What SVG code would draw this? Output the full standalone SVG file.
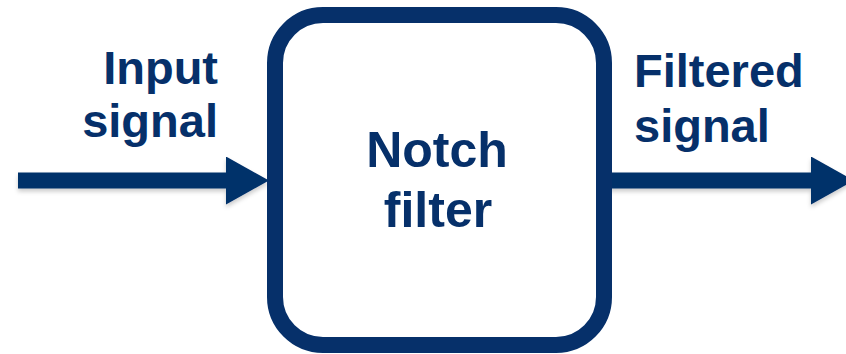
<svg xmlns="http://www.w3.org/2000/svg" width="846" height="354" viewBox="0 0 846 354">
  <style>
    .lbl { font-family: "Liberation Sans", Arial, sans-serif; font-weight: bold; font-size: 47px; fill: #06306a; }
    .big { font-size: 50px; }
    .wire { fill: none; stroke: #06306a; stroke-width: 16; }
  </style>
  <defs>
    <marker id="head" markerUnits="userSpaceOnUse" markerWidth="43" markerHeight="48" refX="1" refY="24" orient="auto">
      <path d="M0,0 L43,24 L0,48 z" fill="#06306a"/>
    </marker>
    <filter id="sh" filterUnits="userSpaceOnUse" x="0" y="140" width="846" height="90">
      <feDropShadow dx="0" dy="3" stdDeviation="2" flood-color="#000" flood-opacity="0.2"/>
    </filter>
  </defs>
  <rect width="846" height="354" fill="#ffffff"/>
  <g id="connectors" filter="url(#sh)">
    <path class="wire" d="M18,180.5 L227,180.5" marker-end="url(#head)"/>
    <path class="wire" d="M603,180.5 L812,180.5" marker-end="url(#head)"/>
  </g>
  <g id="notch-filter">
    <rect x="275" y="15" width="329" height="330" rx="48" ry="48" fill="#ffffff" stroke="#06306a" stroke-width="16"/>
    <text class="lbl big" x="437" y="167" text-anchor="middle">Notch</text>
    <text class="lbl big" x="438" y="227" text-anchor="middle">filter</text>
  </g>
  <g id="input-label">
    <text class="lbl" x="218" y="83.5" text-anchor="end">Input</text>
    <text class="lbl" x="218" y="137" text-anchor="end">signal</text>
  </g>
  <g id="output-label">
    <text class="lbl" x="634" y="86.5">Filtered</text>
    <text class="lbl" x="634" y="141.5">signal</text>
  </g>
</svg>
